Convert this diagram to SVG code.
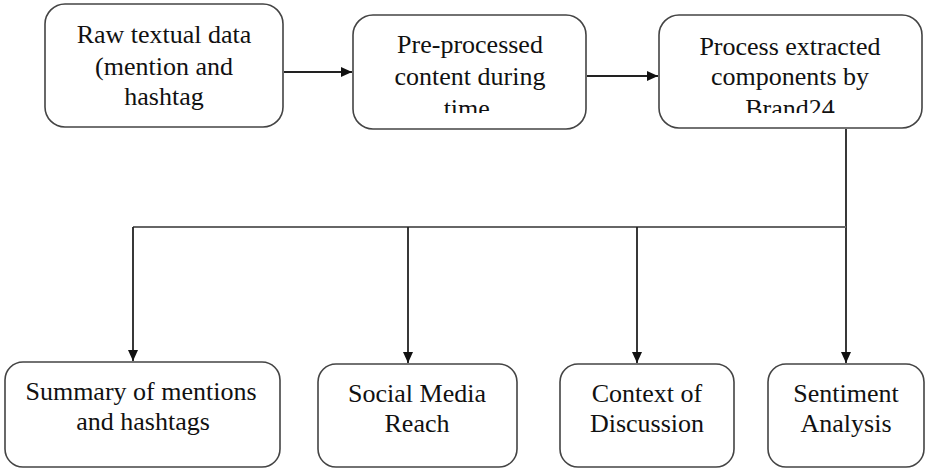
<svg xmlns="http://www.w3.org/2000/svg" width="926" height="470" viewBox="0 0 926 470">
<style>
.box{fill:#fff;stroke:#444;stroke-width:1.6}
.t{font-family:'Liberation Serif','Times New Roman',Times,serif;font-size:26px;fill:#111;text-anchor:middle}
.c{fill:none;stroke:#222;stroke-width:1.8}
.h{fill:none;stroke:#666;stroke-width:2}
</style>
<defs>
<marker id="ah" markerWidth="12" markerHeight="12" refX="11" refY="6" orient="auto" markerUnits="userSpaceOnUse">
<path d="M0,1 L11,6 L0,11 Z" fill="#111"/>
</marker>
<clipPath id="cl2"><rect x="353" y="15" width="233" height="98"/></clipPath>
<clipPath id="cl3"><rect x="659" y="15" width="263" height="98"/></clipPath>
</defs>
<rect width="926" height="470" fill="#fff"/>
<g id="connectors">
<line class="c" x1="284" y1="72" x2="352" y2="72" marker-end="url(#ah)"/>
<line class="c" x1="587" y1="76" x2="658" y2="76" marker-end="url(#ah)"/>
<line class="c" x1="846" y1="129" x2="846" y2="363" marker-end="url(#ah)"/>
<line class="h" x1="133" y1="227" x2="846" y2="227"/>
<line class="c" x1="133" y1="227" x2="133" y2="361" marker-end="url(#ah)"/>
<line class="c" x1="408" y1="227" x2="408" y2="363" marker-end="url(#ah)"/>
<line class="c" x1="637" y1="227" x2="637" y2="363" marker-end="url(#ah)"/>
</g>
<g font-family="Liberation Serif, DejaVu Serif, serif">
<g id="raw">
<rect class="box" x="45" y="4" width="238" height="123" rx="20"/>
<text class="t" x="164" y="43">Raw textual data</text>
<text class="t" x="164" y="75">(mention and</text>
<text class="t" x="164" y="105">hashtag</text>
</g>
<g id="preprocessed">
<rect class="box" x="353" y="15" width="233" height="114" rx="20"/>
<text class="t" x="470" y="53">Pre-processed</text>
<text class="t" x="470" y="85">content during</text>
<text class="t" x="470" y="117" clip-path="url(#cl2)">time.</text>
</g>
<g id="process">
<rect class="box" x="659" y="15" width="263" height="113" rx="20"/>
<text class="t" x="790" y="55">Process extracted</text>
<text class="t" x="790" y="85">components by</text>
<text class="t" x="790" y="117" clip-path="url(#cl3)">Brand24</text>
</g>
<g id="summary">
<rect class="box" x="5" y="362" width="275" height="105" rx="18"/>
<text class="t" x="141" y="400">Summary of mentions</text>
<text class="t" x="143" y="430">and hashtags</text>
</g>
<g id="reach">
<rect class="box" x="318" y="364" width="199" height="103" rx="18"/>
<text class="t" x="417" y="402">Social Media</text>
<text class="t" x="417" y="432">Reach</text>
</g>
<g id="context">
<rect class="box" x="560" y="364" width="174" height="103" rx="18"/>
<text class="t" x="647" y="402">Context of</text>
<text class="t" x="647" y="432">Discussion</text>
</g>
<g id="sentiment">
<rect class="box" x="768" y="364" width="156" height="103" rx="18"/>
<text class="t" x="846" y="402">Sentiment</text>
<text class="t" x="846" y="432">Analysis</text>
</g>
</g>
</svg>
